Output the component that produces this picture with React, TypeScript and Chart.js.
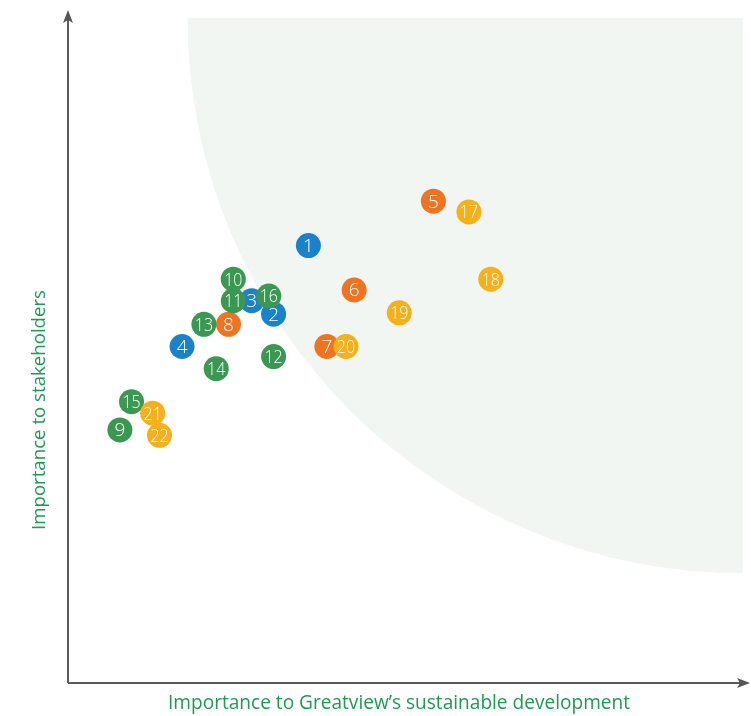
import React, { useEffect, useRef } from "react";
import { Chart, registerables } from "chart.js";

Chart.register(...registerables);

const issueIds = ["1","2","3","4","5","6","7","8","9","10","11","12","13","14","15","16","17","18","19","20","21","22"];
const devImportance = [35.2, 30.1, 26.9, 16.7, 53.5, 41.9, 37.9, 23.5, 7.6, 24.2, 24.2, 30.1, 19.9, 21.7, 9.3, 29.4, 58.7, 61.9, 48.5, 40.7, 12.4, 13.4];
const stakeholderImportance = [65.0, 54.8, 56.8, 50.0, 71.6, 58.4, 50.0, 53.3, 37.6, 60.0, 56.8, 48.5, 53.3, 46.7, 41.8, 57.5, 70.0, 60.0, 55.0, 50.0, 40.1, 36.8];
const issueGroups = ["blue","blue","blue","blue","orange","orange","orange","orange","green","green","green","green","green","green","green","green","yellow","yellow","yellow","yellow","yellow","yellow"];
const groupColors: Record<string, string> = {
  blue: "#1b82c9",
  orange: "#ee7422",
  green: "#3b9853",
  yellow: "#f5b01c",
};
const xTitle = "Importance to Greatview\u2019s sustainable development";
const yTitle = "Importance to stakeholders";
const zoneCenter = [98.8, 98.8];
const zoneRadiusX = 81.3;

const matrixPlugin = {
  id: "matrix",
  beforeDatasetsDraw(chart: any) {
    const { ctx, scales, chartArea } = chart;
    const xs = scales.x, ys = scales.y;
    const cx = xs.getPixelForValue(zoneCenter[0]);
    const cy = ys.getPixelForValue(zoneCenter[1]);
    const r = cx - xs.getPixelForValue(zoneCenter[0] - zoneRadiusX);
    ctx.save();
    ctx.beginPath();
    ctx.rect(chartArea.left, cy, cx - chartArea.left, chartArea.bottom - cy);
    ctx.clip();
    ctx.beginPath();
    ctx.arc(cx, cy, r, 0, Math.PI * 2);
    ctx.fillStyle = "#f1f6f3";
    ctx.fill();
    ctx.restore();

    // axes
    const left = chartArea.left, bottom = chartArea.bottom;
    ctx.save();
    ctx.strokeStyle = "#5a5a5a";
    ctx.fillStyle = "#555555";
    ctx.lineWidth = 2;
    ctx.beginPath();
    ctx.moveTo(left, bottom);
    ctx.lineTo(left, chartArea.top + 6);
    ctx.moveTo(left, bottom);
    ctx.lineTo(chartArea.right - 6, bottom);
    ctx.stroke();
    // arrow up
    const topY = chartArea.top;
    ctx.beginPath();
    ctx.moveTo(left, topY);
    ctx.lineTo(left + 5, topY + 13);
    ctx.lineTo(left, topY + 10);
    ctx.lineTo(left - 5, topY + 13);
    ctx.closePath();
    ctx.fill();
    // arrow right
    const rx = chartArea.right - 1;
    ctx.beginPath();
    ctx.moveTo(rx, bottom);
    ctx.lineTo(rx - 13, bottom - 5);
    ctx.lineTo(rx - 10, bottom);
    ctx.lineTo(rx - 13, bottom + 5);
    ctx.closePath();
    ctx.fill();

    // titles
    ctx.fillStyle = "#1f9a55";
    ctx.textAlign = "center";
    ctx.textBaseline = "middle";
    const fit = (text: string, width: number) => {
      ctx.font = "20px 'Open Sans', sans-serif";
      const w = ctx.measureText(text).width;
      const size = (20 * width) / w;
      ctx.font = `${size.toFixed(2)}px 'Open Sans', sans-serif`;
    };
    fit(xTitle, 462);
    ctx.fillText(xTitle, 399, 704);
    ctx.translate(40, 410);
    ctx.rotate(-Math.PI / 2);
    fit(yTitle, 240);
    ctx.fillText(yTitle, 0, 0);
    ctx.restore();
  },
  afterDatasetsDraw(chart: any) {
    const { ctx } = chart;
    const meta = chart.getDatasetMeta(0);
    ctx.save();
    ctx.fillStyle = "#ffffff";
    ctx.textAlign = "center";
    ctx.textBaseline = "middle";
    ctx.font = "300 19px 'Open Sans', sans-serif";
    meta.data.forEach((el: any, i: number) => {
      const label = issueIds[i];
      ctx.save();
      if (label.length > 1) {
        ctx.translate(el.x, el.y + 1);
        ctx.scale(0.84, 1);
        ctx.fillText(label, 0, 0);
      } else {
        ctx.fillText(label, el.x, el.y + 1);
      }
      ctx.restore();
    });
    ctx.restore();
  },
};

export default function App() {
  const ref = useRef<HTMLCanvasElement>(null);
  useEffect(() => {
    if (!ref.current) return;
    const chart = new Chart(ref.current, {
      type: "scatter",
      data: {
        datasets: [
          {
            data: devImportance.map((x, i) => ({ x, y: stakeholderImportance[i] })),
            backgroundColor: issueGroups.map((g) => groupColors[g]),
            borderColor: issueGroups.map((g) => groupColors[g]),
            borderWidth: 0,
            pointRadius: 12.5,
            pointHoverRadius: 12.5,
          },
        ],
      },
      options: {
        responsive: false,
        animation: false,
        layout: { autoPadding: false, padding: { left: 68, right: 0, top: 10, bottom: 33 } },
        plugins: { legend: { display: false }, tooltip: { enabled: false } },
        scales: {
          x: { type: "linear", min: 0, max: 100, display: false },
          y: { type: "linear", min: 0, max: 100, display: false },
        },
      },
      plugins: [matrixPlugin],
    });
    return () => chart.destroy();
  }, []);
  return (
    <div style={{ position: "absolute", left: 0, top: 0, width: 751, height: 716, background: "#fff" }}>
      <canvas ref={ref} width={751} height={716} />
    </div>
  );
}
